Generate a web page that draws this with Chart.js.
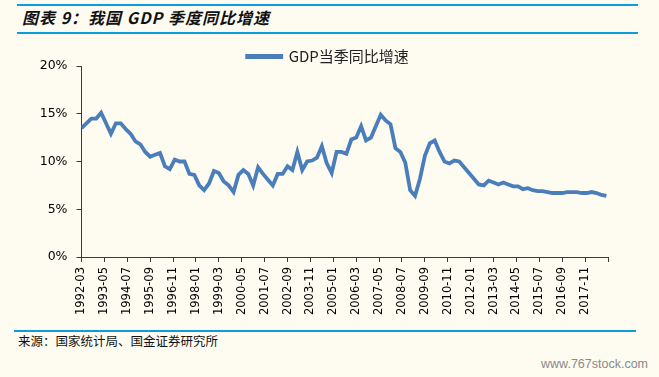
<!DOCTYPE html>
<html lang="zh-CN">
<head>
<meta charset="UTF-8">
<title>图表 9：我国 GDP 季度同比增速</title>
<script src="https://cdn.jsdelivr.net/npm/chart.js"></script>
<style>
    html, body { margin: 0; padding: 0; background: #FEFBF1; }
    #page { position: relative; width: 659px; height: 377px; overflow: hidden; }
    .rule { position: absolute; left: 17px; width: 621px; height: 2px; background: #0A9DE0; }
    #title {
        position: absolute; left: 22px; top: 6px;
        font: italic bold 16px "Noto Sans CJK SC", sans-serif;
        letter-spacing: 1px; color: #111; line-height: 22px;
    }
    #source {
        position: absolute; left: 18px; top: 331px;
        font: 12.5px "Noto Sans CJK SC", sans-serif; color: #111;
    }
    #mark {
        position: absolute; right: 11px; top: 357px;
        font: 12.5px "Liberation Sans", sans-serif; color: #8a8a8a;
    }
    #chart { position: absolute; left: 0; top: 36px; }
</style>
</head>
<body>
<div id="page">
    <div class="rule" style="top:4px"></div>
    <div id="title">图表 9：我国 GDP 季度同比增速</div>
    <div class="rule" style="top:32px"></div>
    <canvas id="chart" width="659" height="290"></canvas>
    <div class="rule" style="top:330px; left:14px; width:622px"></div>
    <div id="source">来源：国家统计局、国金证券研究所</div>
    <div id="mark">www.767stock.com</div>
</div>
<script>
    const firstYear = 1992;
    const lastYear = 2018;
    const quarterMonths = ['03', '06', '09', '12'];

    // 当季同比增速 (%), 1992Q1 - 2018Q4
    const growth = [
        13.5, 14.0, 14.5, 14.5,   // 1992
        15.1, 14.0, 12.9, 14.0,   // 1993
        14.0, 13.4, 12.9, 12.1,   // 1994
        11.8, 11.0, 10.5, 10.7,   // 1995
        10.9, 9.5, 9.2, 10.2,     // 1996
        10.0, 10.0, 8.7, 8.6,     // 1997
        7.5, 7.0, 7.7, 9.0,       // 1998
        8.8, 7.9, 7.5, 6.8,       // 1999
        8.6, 9.1, 8.7, 7.5,       // 2000
        9.4, 8.7, 8.1, 7.5,       // 2001
        8.7, 8.7, 9.5, 9.1,       // 2002
        11.0, 9.1, 10.0, 10.1,    // 2003
        10.4, 11.6, 9.8, 8.8,     // 2004
        11.0, 11.0, 10.8, 12.3,   // 2005
        12.5, 13.7, 12.2, 12.5,   // 2006
        13.7, 14.9, 14.3, 13.9,   // 2007
        11.4, 11.0, 9.9, 7.0,     // 2008
        6.4, 8.2, 10.6, 11.9,     // 2009
        12.2, 11.0, 10.0, 9.8,    // 2010
        10.1, 10.0, 9.4, 8.8,     // 2011
        8.2, 7.6, 7.5, 8.0,       // 2012
        7.8, 7.6, 7.8, 7.6,       // 2013
        7.4, 7.4, 7.1, 7.2,       // 2014
        7.0, 6.9, 6.9, 6.8,       // 2015
        6.7, 6.7, 6.7, 6.8,       // 2016
        6.8, 6.8, 6.7, 6.7,       // 2017
        6.8, 6.7, 6.5, 6.4        // 2018
    ];

    const tickLabels = ['1992-03', '1993-05', '1994-07', '1995-09', '1996-11', '1998-01',
        '1999-03', '2000-05', '2001-07', '2002-09', '2003-11', '2005-01', '2006-03',
        '2007-05', '2008-07', '2009-09', '2010-11', '2012-01', '2013-03', '2014-05',
        '2015-07', '2016-09', '2017-11'];
    const axisEnd = '2019-01';

    const quarters = [];
    for (let y = firstYear; y <= lastYear; y++) {
        quarterMonths.forEach(m => quarters.push(y + '-' + m));
    }

    // months since 1992-03
    function monthIndex(s) {
        const [y, m] = s.split('-').map(Number);
        return (y - firstYear) * 12 + (m - 3);
    }

    const tickValues = tickLabels.concat([axisEnd]).map(monthIndex);
    const points = quarters.map((q, i) => ({ x: monthIndex(q), y: growth[i] }));

    const axisColor = '#3a3a3a';
    const lineColor = '#4A7EBB';

    // legend sits a little lower / further right than chart.js would put it
    const legendNudge = {
        id: 'legendNudge',
        afterLayout(chart) {
            const lg = chart.legend;
            if (!lg) return;
            lg.left += 9; lg.right += 9;
            lg.top += 8; lg.bottom += 8;
        }
    };

    new Chart(document.getElementById('chart'), {
        type: 'line',
        data: {
            datasets: [{
                label: 'GDP当季同比增速',
                data: points,
                borderColor: lineColor,
                backgroundColor: lineColor,
                borderWidth: 3.8,
                pointRadius: 0,
                tension: 0,
                fill: false
            }]
        },
        options: {
            responsive: false,
            animation: false,
            layout: { padding: { top: 5, left: 30, right: 51, bottom: 0 } },
            plugins: {
                legend: {
                    position: 'top',
                    labels: {
                        boxWidth: 34,
                        boxHeight: 1,
                        padding: 0,
                        color: '#222',
                        font: { family: '"Noto Sans CJK SC"', size: 15 }
                    }
                },
                tooltip: { enabled: false }
            },
            scales: {
                x: {
                    type: 'linear',
                    min: 0,
                    max: monthIndex(axisEnd),
                    afterBuildTicks: s => { s.ticks = tickValues.map(v => ({ value: v })); },
                    afterFit: s => { s.height = 69; },
                    ticks: {
                        autoSkip: false,
                        minRotation: 90,
                        maxRotation: 90,
                        padding: 5,
                        color: '#000',
                        font: { family: '"DejaVu Sans"', size: 11.5 },
                        callback: (v, i) => tickLabels[i] || ''
                    },
                    grid: { drawOnChartArea: false, tickLength: 5, color: axisColor },
                    border: { color: axisColor }
                },
                y: {
                    min: 0,
                    max: 20,
                    afterFit: s => { s.width = 51.5; },
                    ticks: {
                        stepSize: 5,
                        padding: 9,
                        color: '#000',
                        font: { family: '"DejaVu Sans"', size: 12.5 },
                        callback: v => v + '%'
                    },
                    grid: { drawOnChartArea: false, tickLength: 5, color: axisColor },
                    border: { color: axisColor }
                }
            }
        },
        plugins: [legendNudge]
    });
</script>
</body>
</html>
